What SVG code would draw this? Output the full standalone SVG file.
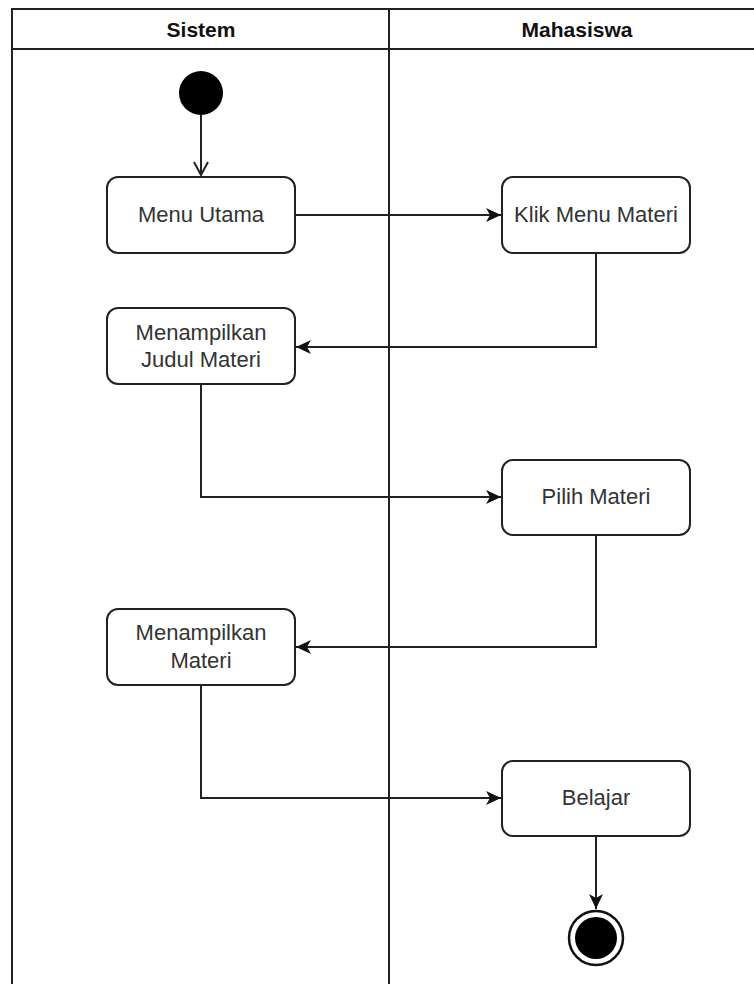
<svg xmlns="http://www.w3.org/2000/svg" width="754" height="984" viewBox="0 0 754 984">
<style>
.lane{fill:none;stroke:#222;stroke-width:2}
.node{fill:#fff;stroke:#222;stroke-width:2}
.lbl{font-family:"Liberation Sans",Arial,sans-serif;font-size:22px;fill:#333;text-anchor:middle}
.hdr{font-family:"Liberation Sans",Arial,sans-serif;font-size:21px;font-weight:bold;fill:#111;text-anchor:middle}
.edge{fill:none;stroke:#222;stroke-width:2}
</style>
<defs>
<marker id="blk" markerUnits="userSpaceOnUse" markerWidth="16" markerHeight="14" refX="15" refY="7" orient="auto">
<path d="M0,0 L15,7 L0,14 L4,7 Z" fill="#111"/>
</marker>
<marker id="open" markerUnits="userSpaceOnUse" markerWidth="16" markerHeight="16" refX="14" refY="8" orient="auto">
<path d="M1,1 L14,8 L1,15" fill="none" stroke="#222" stroke-width="2"/>
</marker>
</defs>
<rect width="754" height="984" fill="#fff"/>
<g id="pool">
<path class="lane" d="M12,984 L12,9 L760,9 M12,49 L760,49 M389,9 L389,984"/>
<text class="hdr" x="201" y="37">Sistem</text>
<text class="hdr" x="577" y="37">Mahasiswa</text>
</g>
<g id="connectors">
<path class="edge" d="M201,115 L201,175" marker-end="url(#open)"/>
<path class="edge" d="M295,215 L501,215" marker-end="url(#blk)"/>
<path class="edge" d="M596,253 L596,347 L296,347" marker-end="url(#blk)"/>
<path class="edge" d="M201,384 L201,497 L501,497" marker-end="url(#blk)"/>
<path class="edge" d="M596,535 L596,647 L296,647" marker-end="url(#blk)"/>
<path class="edge" d="M201,685 L201,798 L501,798" marker-end="url(#blk)"/>
<path class="edge" d="M596,836 L596,909" marker-end="url(#blk)"/>
</g>
<g id="start">
<circle cx="201" cy="93" r="22" fill="#000"/>
</g>
<g id="menu-utama">
<rect class="node" x="107" y="177" width="188" height="76" rx="11"/>
<text class="lbl" x="201" y="222">Menu Utama</text>
</g>
<g id="klik-menu-materi">
<rect class="node" x="502" y="177" width="188" height="76" rx="11"/>
<text class="lbl" x="596" y="222">Klik Menu Materi</text>
</g>
<g id="menampilkan-judul-materi">
<rect class="node" x="107" y="308" width="188" height="76" rx="11"/>
<text class="lbl" x="201" y="340">Menampilkan</text>
<text class="lbl" x="201" y="367">Judul Materi</text>
</g>
<g id="pilih-materi">
<rect class="node" x="502" y="460" width="188" height="75" rx="11"/>
<text class="lbl" x="596" y="504">Pilih Materi</text>
</g>
<g id="menampilkan-materi">
<rect class="node" x="107" y="609" width="188" height="76" rx="11"/>
<text class="lbl" x="201" y="640">Menampilkan</text>
<text class="lbl" x="201" y="668">Materi</text>
</g>
<g id="belajar">
<rect class="node" x="502" y="761" width="188" height="75" rx="11"/>
<text class="lbl" x="596" y="805">Belajar</text>
</g>
<g id="end">
<circle cx="596" cy="938" r="27" fill="#fff" stroke="#111" stroke-width="2.5"/>
<circle cx="596" cy="938" r="21" fill="#000"/>
</g>
</svg>
